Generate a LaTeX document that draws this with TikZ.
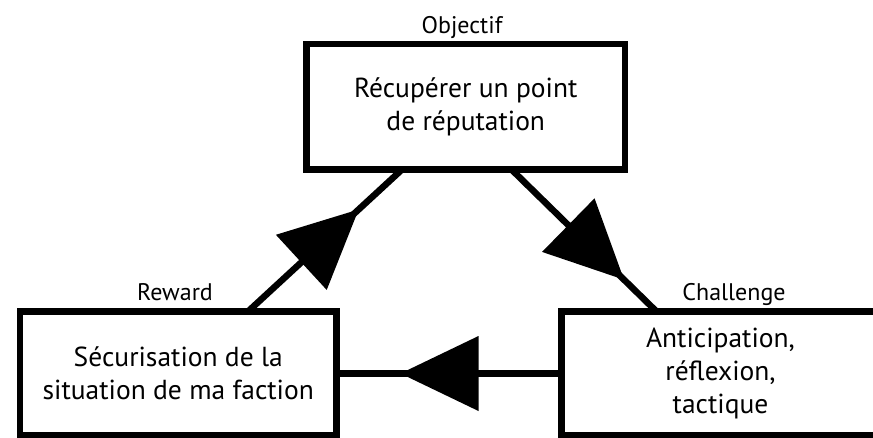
\documentclass[tikz,border=0pt]{standalone}
\usepackage{fontspec}
\setmainfont{PT Sans}
\usetikzlibrary{decorations.markings}

\tikzset{
  box/.style={draw, line width=6.5pt, outer sep=0pt, inner sep=4pt,
              align=center, font=\fontsize{27.5}{33}\selectfont},
  tag/.style={anchor=base, inner sep=0pt, font=\fontsize{24}{28}\selectfont},
  flow/.style={line width=6.5pt,
    postaction={decorate, decoration={markings,
      mark=at position #1 with {\fill (39pt,0pt) -- (-39pt,37.5pt) -- (-39pt,-37.5pt) -- cycle;}}}},
}

\begin{document}
\begin{tikzpicture}[x=1pt, y=1pt]
  \useasboundingbox (0,0) rectangle (873,-437);
  \clip (0,0) rectangle (873,-437);

  % the three stages of the loop
  \node[box, minimum width=318.5pt, minimum height=125.5pt] (obj) at (465.75,-106.75)
    {Récupérer un point\\de réputation};
  \node[box, minimum width=316.5pt, minimum height=124pt] (rew) at (178.25,-373.5)
    {Sécurisation de la\\situation de ma faction};
  \node[box, minimum width=318pt, minimum height=124pt] (ch) at (720.5,-373.5)
    {Anticipation,\\réflexion,\\tactique};

  % stage captions
  \node[tag] (tobj) at (462,-33) {Objectif};
  \node[tag] (trew) at (175,-300.7) {Reward};
  \node[tag] (tch) at (734,-300) {Challenge};

  % connectors with large triangular heads
  \draw[flow=111.5pt] ([xshift=228pt]rew.north west) -- ([xshift=95.5pt]obj.south west);
  \draw[flow=118.5pt] ([xshift=205pt]obj.south west) -- ([xshift=95pt]ch.north west);
  \draw[flow=122pt] (ch.west) -- (rew.east);
\end{tikzpicture}
\end{document}
